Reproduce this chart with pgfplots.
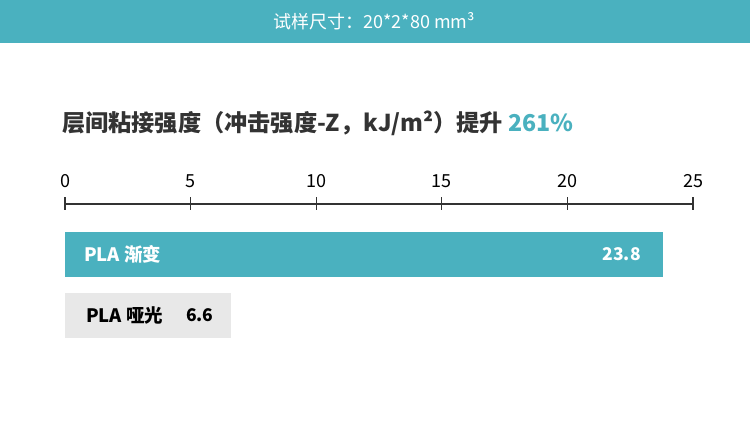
\documentclass[border=0pt]{standalone}
\usepackage{fontspec}
\setmainfont{Noto Sans CJK SC}
\usepackage{pgfplots}
\pgfplotsset{compat=1.18}
\definecolor{teal1}{HTML}{4AB1BF}
\definecolor{barg}{HTML}{E8E8E8}
\definecolor{dark}{HTML}{333333}
\begin{document}
\begin{tikzpicture}
\fill[white] (0pt,0pt) rectangle (750pt,433pt);
\fill[teal1] (0pt,390pt) rectangle (750pt,433pt);
\node[text=white, font=\fontsize{18}{21}\selectfont, inner sep=0] at (374pt,412pt) {试样尺寸：20*2*80 mm³};
\node[anchor=west, text=dark, font=\fontsize{23.2}{27}\selectfont\bfseries, inner sep=0] at (62pt,310pt) {层间粘接强度（冲击强度-Z，kJ/m²）提升 \textcolor{teal1}{261\%}};
\begin{axis}[
  at={(65pt,229pt)}, anchor=north west,
  width=628pt, height=142pt, scale only axis,
  xmin=0, xmax=25, ymin=-0.5, ymax=1.828,
  xbar, bar width=45pt, bar shift=0pt,
  axis x line=top, axis y line=none,
  xtick={0,5,10,15,20,25}, ytick=\empty,
  x axis line style={line width=2.8pt, draw=dark, -},
  tick style={draw=dark, line width=1.2pt}, major tick length=13pt, tick align=center,
  xticklabel style={font=\fontsize{18}{21}\selectfont, text=black, yshift=6pt},
  /pgf/number format/assume math mode=true,
  clip=false,
]
\addplot[fill=teal1, draw=none] coordinates {(23.8,1)};
\addplot[fill=barg, draw=none] coordinates {(6.6,0)};
\node[anchor=west, inner sep=0, xshift=19pt, text=white, font=\bfseries\fontsize{18.5}{21}\selectfont] at (axis cs:0,1) {PLA 渐变};
\node[anchor=east, inner sep=0, xshift=-22pt, text=white, font=\bfseries\fontsize{17.5}{21}\selectfont] at (axis cs:23.8,1) {23.8};
\node[anchor=west, inner sep=0, xshift=21pt, text=black, font=\bfseries\fontsize{18.5}{21}\selectfont] at (axis cs:0,0) {PLA 哑光};
\node[anchor=east, inner sep=0, xshift=-17pt, text=black, font=\bfseries\fontsize{17.5}{21}\selectfont] at (axis cs:6.6,0) {6.6};
\end{axis}
\end{tikzpicture}
\end{document}
